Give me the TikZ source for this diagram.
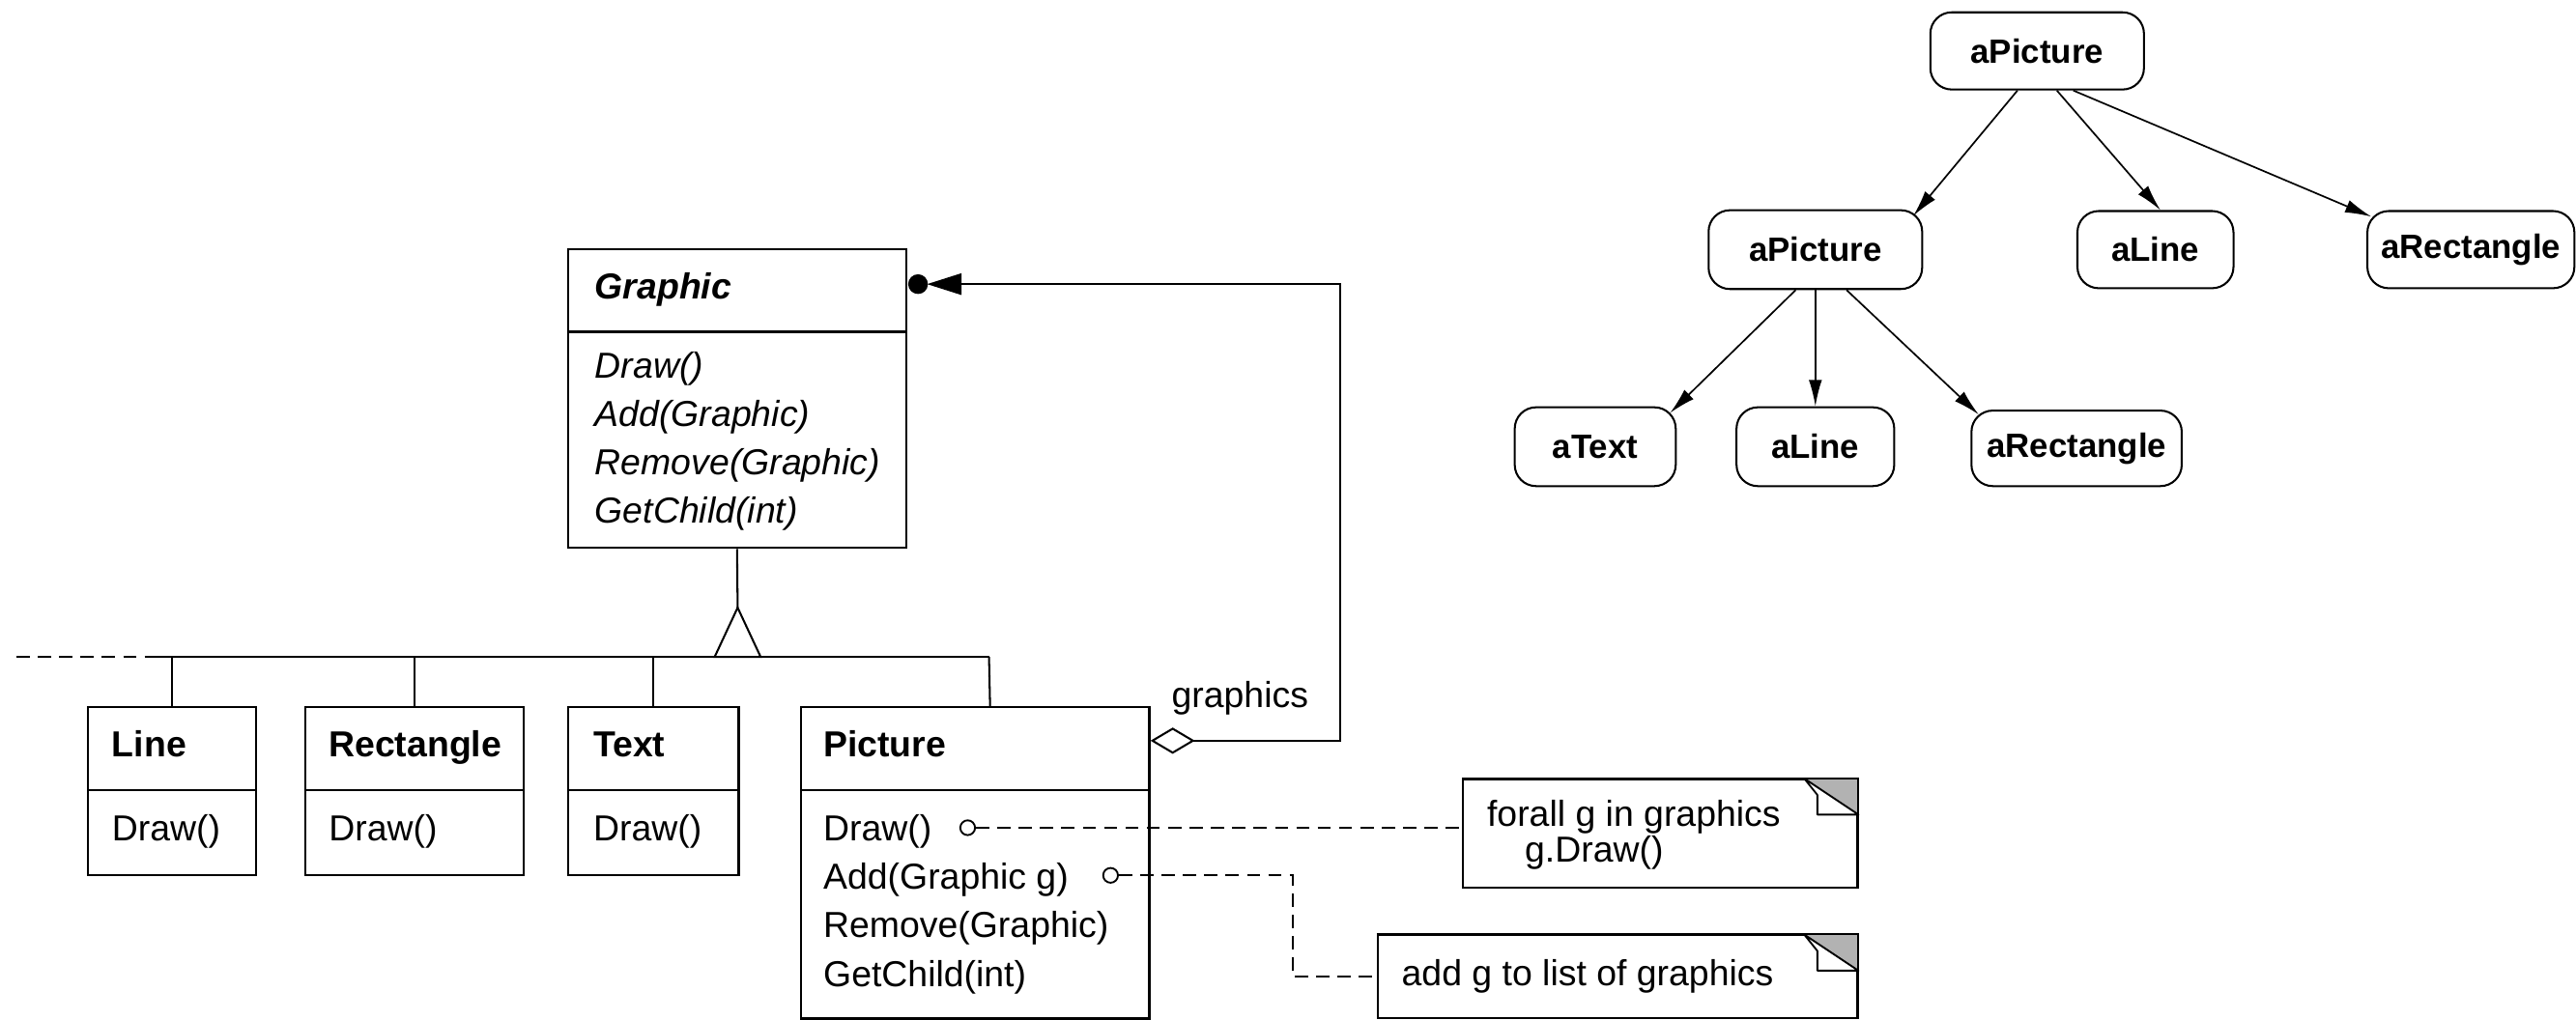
\documentclass[tikz,border=0pt]{standalone}
\usepackage{fontspec}
\setmainfont{Liberation Sans}
\usetikzlibrary{arrows.meta}
\begin{document}
\begin{tikzpicture}[x=1pt,y=-1pt,
  font=\fontsize{22}{26}\selectfont,
  cls/.style={draw, line width=1.3pt, rectangle, anchor=north west, inner sep=0},
  notebox/.style={draw, line width=1.2pt, rectangle, anchor=north west, inner sep=0, fill=white},
  txt/.style={anchor=base west, inner sep=0},
  obj/.style={draw, line width=1.2pt, rounded corners=13pt, minimum width=#1, minimum height=47, inner sep=0, font=\fontsize{20.5}{24}\selectfont\bfseries},
  objarr/.style={line width=1pt, -{Latex[length=16pt,width=8pt]}},
  conn/.style={line width=1.2pt},
  ndash/.style={line width=1.2pt, dash pattern=on 8pt off 5pt},
  pin/.style={circle, draw, fill=white, minimum size=9pt, inner sep=0, line width=1.1pt}
]
\useasboundingbox (0,0) rectangle (1568,621);
\newcommand\clsdiv[2]{\draw[line width=1.3pt] (#1.west |- 0,#2) -- (#1.east |- 0,#2);}

% ---------- class Graphic ----------
\node[cls, minimum width=206, minimum height=182] (graphic) at (345,151) {};
\clsdiv{graphic}{202}
\node[txt] (gT) at (362,182) {\bfseries\itshape Graphic};
\node[txt] (gM1) at (362,230) {\itshape Draw()};
\node[txt] (gM2) at (362,259.5) {\itshape Add(Graphic)};
\node[txt] (gM3) at (362,289) {\itshape Remove(Graphic)};
\node[txt] (gM4) at (362,318.5) {\itshape GetChild(int)};

% ---------- subclasses ----------
\node[cls, minimum width=102, minimum height=102] (line) at (53,430) {};
\clsdiv{line}{481}
\node[txt] (lT) at (68,461) {\bfseries Line};
\node[txt] (lM) at (68,512) {Draw()};

\node[cls, minimum width=133, minimum height=102] (rect) at (185,430) {};
\clsdiv{rect}{481}
\node[txt] (rT) at (200,461) {\bfseries Rectangle};
\node[txt] (rM) at (200,512) {Draw()};

\node[cls, minimum width=104, minimum height=102] (text) at (345,430) {};
\clsdiv{text}{481}
\node[txt] (tT) at (361,461) {\bfseries Text};
\node[txt] (tM) at (361,512) {Draw()};

\node[cls, minimum width=212, minimum height=189.5] (picture) at (487,430) {};
\clsdiv{picture}{481}
\node[txt] (pT) at (501,461) {\bfseries Picture};
\node[txt] (pM1) at (501,512) {Draw()};
\node[txt] (pM2) at (501,541.5) {Add(Graphic g)};
\node[txt] (pM3) at (501,571) {Remove(Graphic)};
\node[txt] (pM4) at (501,600.5) {GetChild(int)};

% ---------- inheritance ----------
\coordinate (barL) at (95,400);
\coordinate (barR) at (602,400);
\coordinate (dashL) at (10,400);
\coordinate (apex) at (449,370);
\draw[conn] (graphic.south) -- (apex);
\draw[conn] (barL) -- (barR);
\draw[ndash] (dashL) -- (barL);
\draw[conn, fill=white] (apex) -- (435,400) -- (463,400) -- cycle;
\draw[conn] (line.north) -- (line.north |- barR);
\draw[conn] (rect.north) -- (rect.north |- barR);
\draw[conn] (text.north) -- (text.north |- barR);
\draw[conn] ([xshift=9pt]picture.north) -- (barR);

% ---------- aggregation ----------
\coordinate (aggTurn) at (816,451);
\draw[conn, {Diamond[open,length=27pt,width=16pt,line width=1.2pt]}-{Triangle[length=21pt,width=13pt]}]
  ([yshift=-21pt]picture.north east) -- (aggTurn) |- ([xshift=12pt,yshift=-22pt]graphic.north east);
\fill ([xshift=6.5pt,yshift=-22pt]graphic.north east) circle (6pt);
\node[txt] (glab) at (713,431) {graphics};

% ---------- notes ----------
\node[notebox, minimum width=240, minimum height=66] (note1) at (890,474) {};
\node[notebox, minimum width=292, minimum height=50.5] (note2) at (838,569) {};
\foreach \n in {note1,note2}{
  \fill[gray!60] ([xshift=-33pt]\n.north east) -- (\n.north east) -- ([yshift=-22pt]\n.north east) -- cycle;
  \draw[line width=1.1pt, fill=white, line join=round] ([xshift=-33pt]\n.north east) -- ([xshift=-25pt,yshift=-10pt]\n.north east) -- ([xshift=-25pt,yshift=-22pt]\n.north east) -- ([yshift=-22pt]\n.north east) -- cycle;
  \draw[line width=1.2pt] (\n.north west) -- (\n.north east) -- (\n.south east);
}
\node[txt] (n1a) at (905,503) {forall g in graphics};
\node[txt] (n1b) at (928,525) {g.Draw()};
\node[txt] (n2a) at (853,600) {add g to list of graphics};

\node[pin] (c1) at (589,504) {};
\node[pin] (c2) at (676,533) {};
\coordinate (k) at (787,533);
\draw[ndash] (c1.east) -- (c1 -| note1.west);
\draw[ndash] (c2.east) -- (k) |- (note2.west);

% ---------- object structure ----------
\node[obj=130] (o1) at (1240,31) {aPicture};
\node[obj=130, minimum height=48] (o2) at (1105,152) {aPicture};
\node[obj=95] (o3) at (1312,152) {aLine};
\node[obj=126] (o4) at (1504,152) {aRectangle};
\node[obj=98, minimum height=48] (o5) at (971,272) {aText};
\node[obj=96, minimum height=48] (o6) at (1105,272) {aLine};
\node[obj=128, minimum height=46] (o7) at (1264,273) {aRectangle};

\draw[objarr] ([xshift=-12pt]o1.south) -- ([xshift=-6pt,yshift=-4pt]o2.north east);
\draw[objarr] ([xshift=12pt]o1.south) -- ([xshift=3pt]o3.north);
\draw[objarr] ([xshift=22pt]o1.south) -- ([xshift=3pt,yshift=-4pt]o4.north west);
\draw[objarr] ([xshift=-12pt]o2.south) -- ([xshift=-4pt,yshift=-4pt]o5.north east);
\draw[objarr] (o2.south) -- (o6.north);
\draw[objarr] ([xshift=19pt]o2.south) -- ([xshift=5pt,yshift=-3pt]o7.north west);
\end{tikzpicture}
\end{document}
